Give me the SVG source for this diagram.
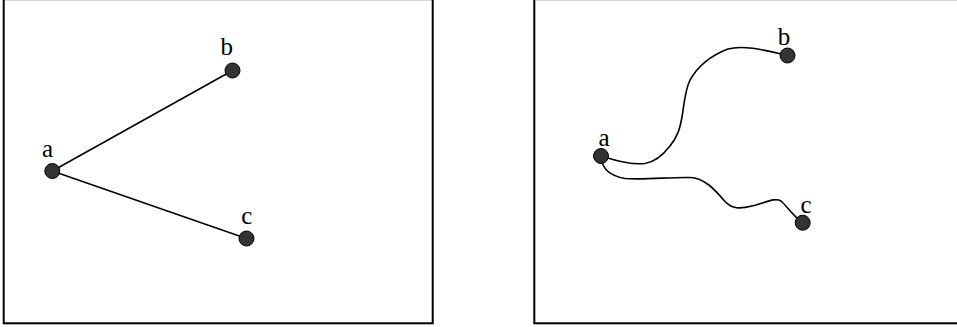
<svg xmlns="http://www.w3.org/2000/svg" width="957" height="327" viewBox="0 0 957 327">
<style>
.frame{fill:#fff;stroke:#000;stroke-width:2}
.node{fill:#333;stroke:#000;stroke-width:1}
.edge{fill:none;stroke:#000;stroke-width:1.6}
.lbl{font-family:"Liberation Serif","Times New Roman",serif;font-size:25px;fill:#000;text-anchor:middle}
</style>
<rect width="957" height="327" fill="#fff"/>
<g id="panel-left">
<rect class="frame" x="3.7" y="-0.85" width="429" height="324.15"/>
</g>
<g id="panel-right">
<rect class="frame" x="534.3" y="-0.85" width="430" height="324.15"/>
</g>
<g id="connectors">
<line class="edge" x1="52.3" y1="171" x2="232.5" y2="70.5"/>
<line class="edge" x1="52.3" y1="171" x2="246.5" y2="238.5"/>
<path class="edge" d="M601,156 C615,160 630,165 645,163.5 C655,162 663,155 670,146 C678,136 680,128 682,117 C684,105 685,90 690,80 C698,66 712,55 728,49 C742,45 760,49 787.5,55.5"/>
<path class="edge" d="M601,157 C602,168 610,176 625,178.5 C645,180 670,177 690,177.5 C705,178 715,190 725,201.5 C732,209 740,209 752,206 C765,203 775,197 781,201 C787,206 792,215 802.7,222.7"/>
</g>
<g id="node-a-left">
<circle class="node" cx="52.3" cy="171" r="7.5"/>
<text class="lbl" x="47.5" y="156.7">a</text>
</g>
<g id="node-b-left">
<circle class="node" cx="232.5" cy="70.5" r="7.5"/>
<text class="lbl" x="226.7" y="55">b</text>
</g>
<g id="node-c-left">
<circle class="node" cx="246.5" cy="238.5" r="7.5"/>
<text class="lbl" x="246.7" y="223.5">c</text>
</g>
<g id="node-a-right">
<circle class="node" cx="601" cy="156" r="7.5"/>
<text class="lbl" x="604" y="145.5">a</text>
</g>
<g id="node-b-right">
<circle class="node" cx="787.5" cy="55.5" r="7.5"/>
<text class="lbl" x="784" y="44.5">b</text>
</g>
<g id="node-c-right">
<circle class="node" cx="802.7" cy="222.7" r="7.5"/>
<text class="lbl" x="806" y="212.5">c</text>
</g>
</svg>
